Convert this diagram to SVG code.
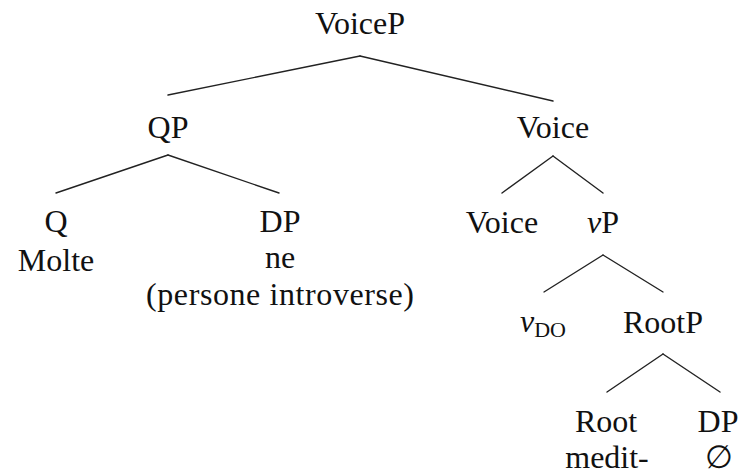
<svg xmlns="http://www.w3.org/2000/svg" width="743" height="474" viewBox="0 0 743 474">
  <style>
    text { font-family: "Liberation Serif", "DejaVu Serif", serif; font-size: 32px; fill: #111; text-anchor: middle; }
    .it { font-style: italic; }
    .sub { font-size: 22px; }
    .edges line { stroke: #222; stroke-width: 1.4; stroke-linecap: round; }
  </style>
  <rect width="743" height="474" fill="#fff"/>

  <!-- branches -->
  <g id="edges" class="edges">
    <line x1="360" y1="56" x2="168" y2="95"/>
    <line x1="360" y1="56" x2="553" y2="101"/>
    <line x1="168" y1="155" x2="56" y2="193"/>
    <line x1="168" y1="155" x2="279" y2="193"/>
    <line x1="553" y1="156" x2="502" y2="193"/>
    <line x1="553" y1="156" x2="603" y2="193"/>
    <line x1="603" y1="255" x2="544" y2="292"/>
    <line x1="603" y1="255" x2="663" y2="292"/>
    <line x1="663" y1="354" x2="607" y2="392"/>
    <line x1="663" y1="354" x2="720" y2="392"/>
  </g>

  <g id="voiceP"><text x="360" y="34">VoiceP</text></g>
  <g id="qP"><text x="168" y="138">QP</text></g>
  <g id="voiceBar"><text x="553" y="138">Voice</text></g>
  <g id="q">
    <text x="56" y="232">Q</text>
    <text x="56" y="271">Molte</text>
  </g>
  <g id="dpSubject">
    <text x="280" y="232">DP</text>
    <text x="280" y="268">ne</text>
    <text x="280" y="305" textLength="268" lengthAdjust="spacing">(persone introverse)</text>
  </g>
  <g id="voiceHead"><text x="502" y="233">Voice</text></g>
  <g id="vP"><text x="603" y="233"><tspan class="it">v</tspan>P</text></g>
  <g id="vDO"><text x="543" y="332"><tspan class="it">v</tspan><tspan class="sub" dy="5">DO</tspan></text></g>
  <g id="rootP"><text x="663" y="333">RootP</text></g>
  <g id="root">
    <text x="606" y="432">Root</text>
    <text x="607" y="468">medit-</text>
  </g>
  <g id="dpObject">
    <text x="718" y="432">DP</text>
    <text x="719" y="468">∅</text>
  </g>
</svg>
